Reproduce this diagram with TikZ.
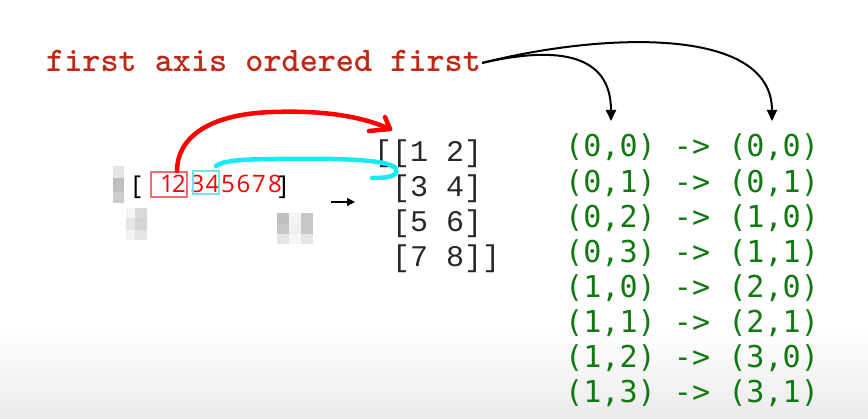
\documentclass[tikz,border=0pt]{standalone}
\usepackage{fontspec}
\usetikzlibrary{arrows.meta}
\newfontfamily\greenfont{DejaVu Sans Mono}
\newfontfamily\matfont{Liberation Mono}
\newfontfamily\digfont{Open Sans}
\definecolor{titlered}{RGB}{190,40,20}
\definecolor{codegreen}{RGB}{18,120,18}
\definecolor{matgray}{RGB}{40,40,40}
\definecolor{handred}{RGB}{255,0,0}
\definecolor{handcyan}{RGB}{20,235,245}
\definecolor{boxred}{RGB}{240,110,110}
\definecolor{boxcyan}{RGB}{110,230,235}
\begin{document}
\begin{tikzpicture}[x=1pt,y=-1pt,
  greenrow/.style={anchor=base west,inner sep=0pt,text=codegreen,font=\greenfont\fontsize{30.1}{30}\selectfont},
  matrow/.style={anchor=base west,inner sep=0pt,text=matgray,font=\matfont\fontsize{30}{30}\selectfont},
  digit/.style={anchor=base,inner sep=0pt,text=handred,font=\digfont\fontsize{24}{24}\selectfont},
  brack/.style={anchor=base,inner sep=0pt,text=black,font=\digfont\fontsize{26}{26}\selectfont},
  titletext/.style={anchor=base west,inner sep=0pt,text=titlered,font=\ttfamily\bfseries\fontsize{34.5}{34}\selectfont},
  pointer/.style={draw=black,line width=2pt,-{Triangle[length=11pt,width=10pt]}},
  handline/.style={line width=4.5pt,line cap=round,line join=round}
]
\useasboundingbox (0,0) rectangle (868,419);
\fill[white] (0,0) rectangle (868,419);
\shade[top color=white,bottom color=black!8,draw=none] (0,325) rectangle (868,419);

% title
\node[titletext] (title) at (46,72) {first axis ordered first};
\coordinate (tstart) at (482,63);
\coordinate (t1) at (611,121);
\coordinate (t2) at (772,121);
\draw[pointer] (tstart) .. controls (560,45) and (611,55) .. (t1);
\draw[pointer] (tstart) .. controls (600,33) and (772,25) .. (t2);

% green mapping rows
\node[greenrow] (g1) at (565,157) {(0,0) -> (0,0)};
\node[greenrow] (g2) at (565,192.1) {(0,1) -> (0,1)};
\node[greenrow] (g3) at (565,227.2) {(0,2) -> (1,0)};
\node[greenrow] (g4) at (565,262.3) {(0,3) -> (1,1)};
\node[greenrow] (g5) at (565,297.4) {(1,0) -> (2,0)};
\node[greenrow] (g6) at (565,332.5) {(1,1) -> (2,1)};
\node[greenrow] (g7) at (565,367.6) {(1,2) -> (3,0)};
\node[greenrow] (g8) at (565,402.7) {(1,3) -> (3,1)};

% matrix
\node[matrow] (m1) at (374,162) {[[1 2]};
\node[matrow] (m2) at (392,197) {[3 4]};
\node[matrow] (m3) at (392,232) {[5 6]};
\node[matrow] (m4) at (392,267) {[7 8]]};

% flat array
\node[brack] (lb) at (137,195) {[};
\node[digit] (d1) at (167,193) {1};
\node[digit] (d2) at (179,193) {2};
\node[digit] (d3) at (197.5,193) {3};
\node[digit] (d4) at (212.5,193) {4};
\node[digit] (d5) at (228,193) {5};
\node[digit] (d6) at (243.5,193) {6};
\node[digit] (d7) at (259,193) {7};
\node[digit] (d8) at (275,193) {8};
\node[brack] (rb) at (283,195) {]};
\node[draw=boxred,line width=1.2pt,minimum width=36pt,minimum height=25pt,inner sep=0pt] (box12) at (169,184.5) {};
\node[draw=boxcyan,line width=1.2pt,minimum width=26pt,minimum height=23pt,inner sep=0pt] (box34) at (206,182.5) {};

% small arrow
\coordinate (sa) at (331,202);
\coordinate (sb) at (355,202);
\draw[line width=1.6pt,-{Triangle[length=8pt,width=8pt]}] (sa) -- (sb);

% hand drawn red arrow
\coordinate (rs) at (177,171);
\coordinate (rtop) at (273,112);
\coordinate (rtip) at (390,129);
\draw[handline,draw=handred] (rs) .. controls (177,140) and (205,114) .. (rtop) .. controls (330,110) and (365,118) .. (rtip);
\draw[handline,draw=handred] (385,117) -- (rtip) -- (369,131);

% hand drawn cyan hook
\coordinate (cs) at (216,166);
\coordinate (cend) at (372,178);
\draw[handline,draw=handcyan] (cs) .. controls (222,161) and (240,159) .. (280,159) .. controls (345,158) and (392,160) .. (396,169) .. controls (399,177) and (385,178) .. (cend);

% blurred pixel blobs
\fill[black!10] (113,166) rectangle (124,178);
\fill[black!25] (113,178) rectangle (124,192);
\fill[black!20] (113,192) rectangle (124,203);
\fill[black!4] (126,208) rectangle (135,218);
\fill[black!15] (135,208) rectangle (147,218);
\fill[black!10] (126,218) rectangle (135,230);
\fill[black!17] (135,218) rectangle (147,230);
\fill[black!5] (126,230) rectangle (135,240);
\fill[black!10] (135,230) rectangle (147,240);
\fill[black!25] (277,213) rectangle (289,224);
\fill[black!4] (289,213) rectangle (301,224);
\fill[black!22] (301,213) rectangle (313,224);
\fill[black!22] (277,224) rectangle (289,234);
\fill[black!6] (289,224) rectangle (301,234);
\fill[black!22] (301,224) rectangle (313,234);
\fill[black!10] (277,234) rectangle (289,244);
\fill[black!4] (289,234) rectangle (301,244);
\fill[black!10] (301,234) rectangle (313,244);
\end{tikzpicture}
\end{document}
